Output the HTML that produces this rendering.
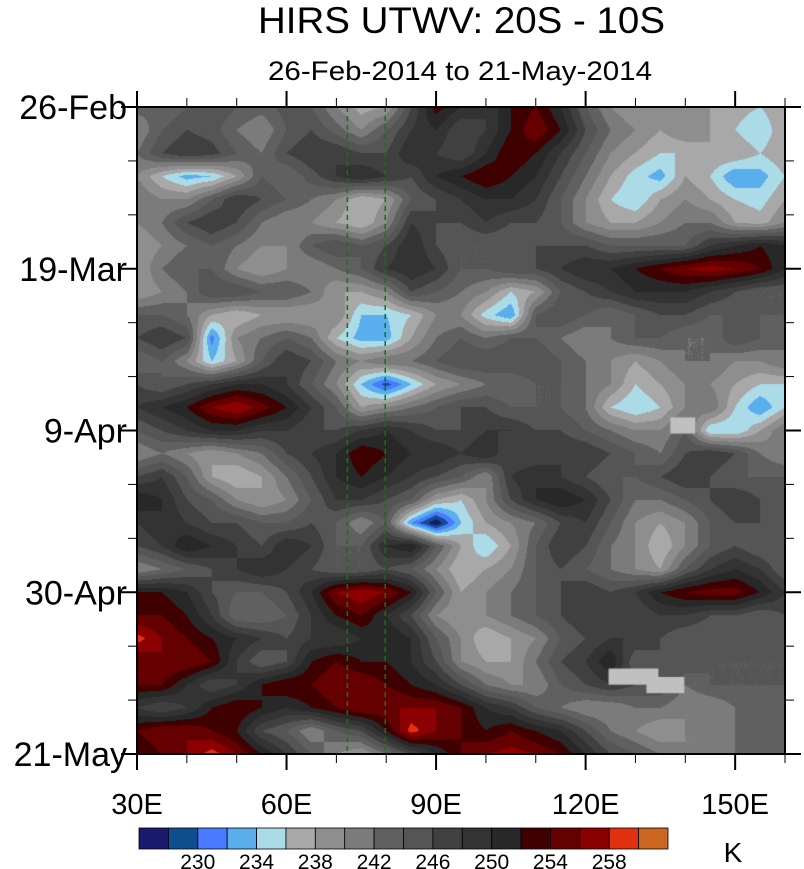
<!DOCTYPE html>
<html><head><meta charset="utf-8"><style>
body{margin:0;background:#fff;width:804px;height:869px;overflow:hidden;font-family:"Liberation Sans",sans-serif;position:relative;}
#cv{position:absolute;left:137px;top:107px;}
#chart{position:absolute;left:0;top:0;}
</style></head><body>
<canvas id="cv" width="648" height="647"></canvas>
<svg id="chart" width="804" height="869" xmlns="http://www.w3.org/2000/svg">
<text x="258" y="33" font-size="37" textLength="407" lengthAdjust="spacingAndGlyphs" font-family="Liberation Sans">HIRS UTWV: 20S - 10S</text>
<text x="268" y="80" font-size="27" textLength="384" lengthAdjust="spacingAndGlyphs" font-family="Liberation Sans">26-Feb-2014 to 21-May-2014</text>
<g id="overlay"></g>
<text x="733" y="862" font-size="28" text-anchor="middle" font-family="Liberation Sans">K</text>
</svg>
<script>
const lonTicks=[30,60,90,120,150];
const lonLabels=["30E","60E","90E","120E","150E"];
const dayTicks=[0,21,42,63,84];
const dayLabels=["26-Feb","19-Mar","9-Apr","30-Apr","21-May"];
const levels=[228,230,232,234,236,238,240,242,244,246,248,250,252,254,256,258,260];
const levelColors=["#1a1a6e","#0f4f8f","#4a7aff","#5aaeec","#acdbe8","#a8a8a8","#8e8e8e","#7b7b7b","#606060","#555555","#404040","#333333","#282828","#3f0000","#650000","#8b0000","#e03010","#cc6620"];
const cbLabels=[230,234,238,242,246,250,254,258];
const gridLons=[30,35,40,45,50,55,60,65,70,75,80,85,90,95,100,105,110,115,120,125,130,135,140,145,150,155,160];
const gridDays=[0,3,6,9,12,15,18,21,24,27,30,33,36,39,42,45,48,51,54,57,60,63,66,69,72,75,78,81,84];
const field=[
[243,242,244,246,244,243,245,244,240,237,238,246,253,250,248,252,254,250,244,240,238,239,240,238,237,236,238],
[240,244,246,245,242,240,244,246,243,240,244,248,250,246,248,252,256,252,246,242,240,238,240,238,236,234,238],
[242,246,248,247,244,242,246,248,248,246,246,250,248,246,250,254,252,248,244,240,238,236,236,238,238,236,238],
[240,236,233,234,238,244,242,245,248,250,248,246,250,252,254,252,250,246,242,238,235,233,238,236,232,233,236],
[242,240,240,244,248,246,244,242,240,236,238,244,246,248,250,250,248,244,240,236,234,238,240,238,236,235,238],
[240,242,246,248,246,242,240,240,238,236,240,248,246,246,248,246,246,244,240,238,238,240,242,242,238,237,240],
[238,240,242,244,242,240,240,244,246,244,246,250,246,244,244,244,246,246,246,244,244,244,244,248,250,252,250],
[238,242,244,244,240,238,240,240,242,244,248,250,248,244,244,246,246,248,250,250,252,254,256,257,256,254,250],
[238,240,242,246,246,244,244,242,238,238,240,246,244,242,240,236,238,244,246,248,250,250,250,248,246,244,244],
[244,244,242,238,236,238,238,238,240,234,234,236,240,240,235,232,244,246,244,242,244,246,246,244,244,244,244],
[246,248,246,231,240,242,244,242,236,233,233,238,242,244,242,244,244,242,240,242,244,244,242,242,246,244,242],
[242,244,240,234,238,244,248,246,242,240,242,242,244,246,246,246,246,244,242,240,238,240,242,242,240,240,242],
[246,244,246,248,250,250,248,244,240,234,229,234,238,240,242,242,244,244,242,240,236,238,240,240,238,236,236],
[248,250,252,256,258,255,252,248,244,238,240,242,244,246,246,244,244,244,242,236,234,236,240,242,236,232,236],
[244,246,248,250,250,248,248,246,246,248,250,248,246,246,248,248,246,246,244,242,240,240,244,234,234,238,242],
[240,242,240,238,240,242,246,248,250,254,252,250,250,248,250,246,246,248,248,246,244,242,246,248,246,242,240],
[246,248,244,238,236,238,242,246,250,252,250,248,246,244,240,248,250,248,246,244,244,246,248,246,244,244,244],
[252,250,246,244,240,238,240,244,248,248,246,244,238,236,240,246,250,252,250,246,242,242,244,246,248,246,244],
[248,250,248,246,246,244,244,246,244,240,244,232,226,234,238,240,242,246,248,244,240,238,240,244,246,246,244],
[246,248,252,250,248,246,250,248,244,244,250,252,244,238,234,238,244,248,246,242,240,236,240,244,246,244,244],
[240,242,244,246,248,250,248,246,244,244,246,244,240,236,238,240,244,246,244,242,240,238,244,248,250,248,244],
[252,252,250,246,244,244,246,250,256,258,256,252,244,238,240,242,244,246,248,246,248,252,254,255,255,252,248],
[254,254,252,248,242,242,244,248,252,254,250,246,240,238,240,242,244,246,248,248,246,248,248,246,246,244,246],
[259,256,254,252,250,248,246,248,248,250,252,250,244,240,236,238,240,244,246,248,248,246,244,244,246,246,244],
[254,256,256,254,248,244,246,252,254,252,252,250,246,240,238,238,242,246,248,252,244,246,246,244,244,244,244],
[254,254,250,246,248,252,254,254,256,256,254,252,250,246,242,240,240,244,246,248,246,246,242,244,244,244,244],
[248,246,248,252,254,252,250,252,254,256,256,256,256,254,250,248,244,242,240,240,242,242,240,240,242,242,242],
[254,256,256,254,252,246,244,240,244,246,252,259,256,254,252,254,252,250,246,242,240,238,240,240,242,244,244],
[252,254,256,259,256,252,248,244,240,238,242,246,250,254,256,257,256,254,250,246,244,242,240,240,242,242,242]];
const missingBoxes=[[137,40.3,142,42.4],[124.6,72.9,134.6,75],[132.2,74,139.8,76.1]];
const refLons=[72.2,79.8];

const X0=137,Y0=107,W=648,H=647;
const xs=lon=>X0+(lon-30)*W/130;
const ys=d=>Y0+d*H/84;
function hex(c){return [parseInt(c.substr(1,2),16),parseInt(c.substr(3,2),16),parseInt(c.substr(5,2),16)];}
const rgb=levelColors.map(hex);
function valAt(lon,day){
  const nx=gridLons.length,ny=gridDays.length;
  let fx=(lon-gridLons[0])/(gridLons[nx-1]-gridLons[0])*(nx-1);
  let fy=(day-gridDays[0])/(gridDays[ny-1]-gridDays[0])*(ny-1);
  fx=Math.max(0,Math.min(nx-1.0001,fx));fy=Math.max(0,Math.min(ny-1.0001,fy));
  const i=Math.floor(fx),j=Math.floor(fy),a=fx-i,b=fy-j;
  return field[j][i]*(1-a)*(1-b)+field[j][i+1]*a*(1-b)+field[j+1][i]*(1-a)*b+field[j+1][i+1]*a*b;
}
const cv=document.getElementById('cv'),ctx=cv.getContext('2d');
const img=ctx.createImageData(W,H);
for(let py=0;py<H;py++){for(let px=0;px<W;px++){
  const lon=30+(px+0.5)*130/W,day=(py+0.5)*84/H;
  const v=valAt(lon,day);let k=0;while(k<levels.length&&v>=levels[k])k++;
  const c=rgb[k],o=(py*W+px)*4;img.data[o]=c[0];img.data[o+1]=c[1];img.data[o+2]=c[2];img.data[o+3]=255;}}
ctx.putImageData(img,0,0);
ctx.fillStyle="#c0c0c0";
missingBoxes.forEach(b=>{ctx.fillRect(xs(b[0])-X0,ys(b[1])-Y0,xs(b[2])-xs(b[0]),ys(b[3])-ys(b[1]));});

const NS="http://www.w3.org/2000/svg",ov=document.getElementById('overlay');
function mk(tag,attrs){const e=document.createElementNS(NS,tag);for(const k in attrs)e.setAttribute(k,attrs[k]);ov.appendChild(e);return e;}
refLons.forEach(l=>{
  const e=mk('line',{x1:xs(l),x2:xs(l),y1:Y0,y2:Y0+H,stroke:"#0a7a0a","stroke-width":1.5,"stroke-dasharray":"5,4"});
  
  
});
const fr=mk('rect',{x:X0,y:Y0,width:W,height:H,fill:"none",stroke:"#000","stroke-width":2});


for(let lon=30;lon<=160;lon+=10){
  const major=(lon%30===0),L=major?16:9,x=xs(lon);
  const t1=mk('line',{x1:x,x2:x,y1:Y0+H,y2:Y0+H+L,stroke:"#000","stroke-width":major?2:1});
  
  
  const t2=mk('line',{x1:x,x2:x,y1:Y0,y2:Y0-L,stroke:"#000","stroke-width":major?2:1});
  
  
}
for(let d=0;d<=84;d+=7){
  const major=(d%21===0),L=major?16:9,y=ys(d);
  const t1=mk('line',{x1:X0,x2:X0-L,y1:y,y2:y,stroke:"#000","stroke-width":major?2:1});
  
  
  const t2=mk('line',{x1:X0+W,x2:X0+W+L,y1:y,y2:y,stroke:"#000","stroke-width":major?2:1});
  
  
}
lonTicks.forEach((l,i)=>{
  const t=mk('text',{x:xs(l),y:814,"font-size":29,"text-anchor":"middle","font-family":"Liberation Sans"});
  t.textContent=lonLabels[i];
  
  
});
dayTicks.forEach((d,i)=>{
  const t=mk('text',{x:127,y:ys(d)+12,"font-size":34,"text-anchor":"end","font-family":"Liberation Sans"});
  t.textContent=dayLabels[i];
  
  
});
const CBX=139,CBY=828,CBW=529,CBH=21,bw=CBW/levelColors.length;
levelColors.forEach((c,i)=>{
  const r=mk('rect',{x:CBX+i*bw,y:CBY,width:bw,height:CBH,fill:c,stroke:"#000","stroke-width":0.8});
  
  
});
cbLabels.forEach(v=>{
  const k=levels.indexOf(v)+1;
  const t=mk('text',{x:CBX+k*bw,y:869,"font-size":21,"text-anchor":"middle","font-family":"Liberation Sans"});
  t.textContent=v;
  
  
});
</script>
</body></html>
